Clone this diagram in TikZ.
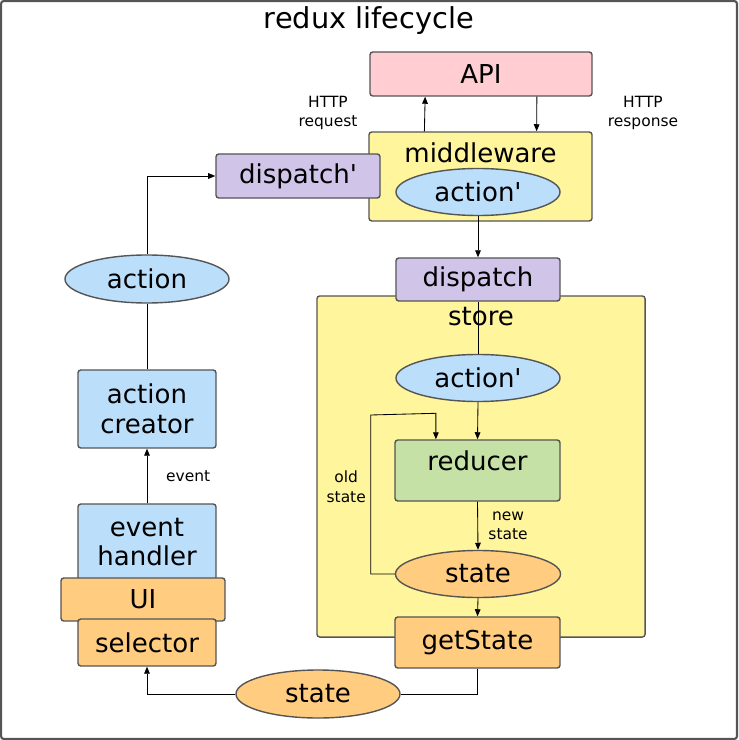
\documentclass[tikz,border=0pt]{standalone}
\usepackage{fontspec}
\setmainfont{DejaVu Sans}
\usetikzlibrary{arrows.meta,shapes,calc}
\definecolor{apipink}{HTML}{FFCDD2}
\definecolor{lightyellow}{HTML}{FFF59D}
\definecolor{lightpurple}{HTML}{D1C4E9}
\definecolor{lightblue}{HTML}{BBDEFB}
\definecolor{lightgreen}{HTML}{C5E1A5}
\definecolor{lightorange}{HTML}{FFCC80}
\definecolor{edgegray}{HTML}{555555}

\newcommand{\boxfont}{\fontsize{18.5}{21}\selectfont}
\newcommand{\lblfont}{\fontsize{11}{14}\selectfont}
\newcommand{\prm}{\textquotesingle}

\tikzset{
  boxtext/.style={font=\boxfont, align=center, inner sep=2pt},
  toptext/.style={boxtext, anchor=north, yshift=-6pt},
  box/.style={rectangle, draw=edgegray, line width=1pt, rounded corners=2pt, align=center, inner sep=0pt, font=\boxfont},
  oval/.style={ellipse, draw=edgegray, line width=1pt, inner sep=0pt, font=\boxfont, minimum width=4.1cm, minimum height=1.2cm},
  lbl/.style={font=\lblfont, align=center},
  link/.style={line width=0.6pt},
  arr/.style={link, -{Triangle[length=5pt,width=4pt]}}
}

\begin{document}
\begin{tikzpicture}[x=0.025cm,y=-0.025cm]
  % frame and title
  \useasboundingbox (0,0) rectangle (738,740);
  \draw[edgegray, line width=1.5pt, rounded corners=2pt] (1,1) rectangle (737,739);
  \node[boxtext, font=\fontsize{20.5}{24}\selectfont] (title) at (369,21) {redux lifecycle};

  % API and middleware
  \node[box, fill=apipink, minimum width=5.55cm, minimum height=1.1cm] (api) at (481,74) {API};
  \node[box, fill=lightyellow, minimum width=5.575cm, minimum height=2.225cm,
    label={[toptext, name=mwtext]north:middleware}] (mw) at (480.5,176.5) {};
  \node[oval, fill=lightblue, minimum height=1.175cm] (mwact) at (478,192) {action\prm};
  \node[box, fill=lightpurple, minimum width=4.1cm, minimum height=1.1cm] (dispp) at (298,176) {dispatch\prm};
  \node[lbl] (req) at (328,113) {HTTP\\request};
  \node[lbl] (resp) at (643,113) {HTTP\\response};

  % store
  \node[box, fill=lightyellow, minimum width=8.2cm, minimum height=8.525cm,
    label={[toptext, name=storetext]north:store}] (store) at (481,466.5) {};
  \node[box, fill=lightpurple, minimum width=4.1cm, minimum height=1.075cm] (disp) at (478,279.5) {dispatch};
  \node[oval, fill=lightblue, minimum height=1.175cm] (stact) at (478,378) {action\prm};
  \node[box, fill=lightgreen, minimum width=4.125cm, minimum height=1.525cm,
    label={[toptext, name=redtext]north:reducer}] (reducer) at (477.5,470.5) {};
  \node[oval, fill=lightorange, minimum width=4.125cm, minimum height=1.175cm] (state) at (478,574) {state};
  \node[box, fill=lightorange, minimum width=4.125cm, minimum height=1.275cm] (getstate) at (477.5,642.5) {getState};

  % view side
  \node[oval, fill=lightblue] (act) at (147,279) {action};
  \node[box, fill=lightblue, minimum width=3.45cm, minimum height=1.95cm] (creator) at (147,409) {action\\creator};
  \node[box, fill=lightblue, minimum width=3.45cm, minimum height=1.9cm] (handler) at (147,542) {event\\handler};
  \node[box, fill=lightorange, minimum width=4.1cm, minimum height=1.075cm] (ui) at (143,599.5) {UI};
  \node[box, fill=lightorange, minimum width=3.45cm, minimum height=1.175cm] (selector) at (147,642.5) {selector};
  \node[oval, fill=lightorange] (outstate) at (318,694) {state};

  % connectors
  \draw[arr] ($(mw.north west)!0.25!(mw.north east)$) -- ($(api.south west)!0.25!(api.south east)$);
  \draw[arr] ($(api.south west)!0.75!(api.south east)$) -- ($(mw.north west)!0.75!(mw.north east)$);
  \draw[arr] (mwact.south) -- (disp.north);
  \draw[link] (disp.south) -- (stact.north);
  \draw[arr] (stact.south) -- (reducer.north);
  \draw[arr] (reducer.south) -- node[lbl, right, xshift=4pt] {new\\state} (state.north);
  \draw[arr] (state.west) -- ++(-24,0) coordinate (oldbot) |- ++(0,-159) coordinate (oldtop)
    -- ($(reducer.north west)!0.25!(reducer.north east)+(0,-26)$) -- ($(reducer.north west)!0.25!(reducer.north east)$);
  \node[lbl, anchor=east] (oldlbl) at ($(oldbot)!0.55!(oldtop)$) {old\\state};
  \draw[arr] (state.south) -- (getstate.north);
  \draw[link] (getstate.south) |- (outstate.east);
  \draw[arr] (outstate.west) -| (selector.south);
  \draw[arr] (handler.north) -- node[lbl, right, xshift=10pt] {event} (creator.south);
  \draw[link] (creator.north) -- (act.south);
  \draw[arr] (act.north) |- (dispp.west);
\end{tikzpicture}
\end{document}
